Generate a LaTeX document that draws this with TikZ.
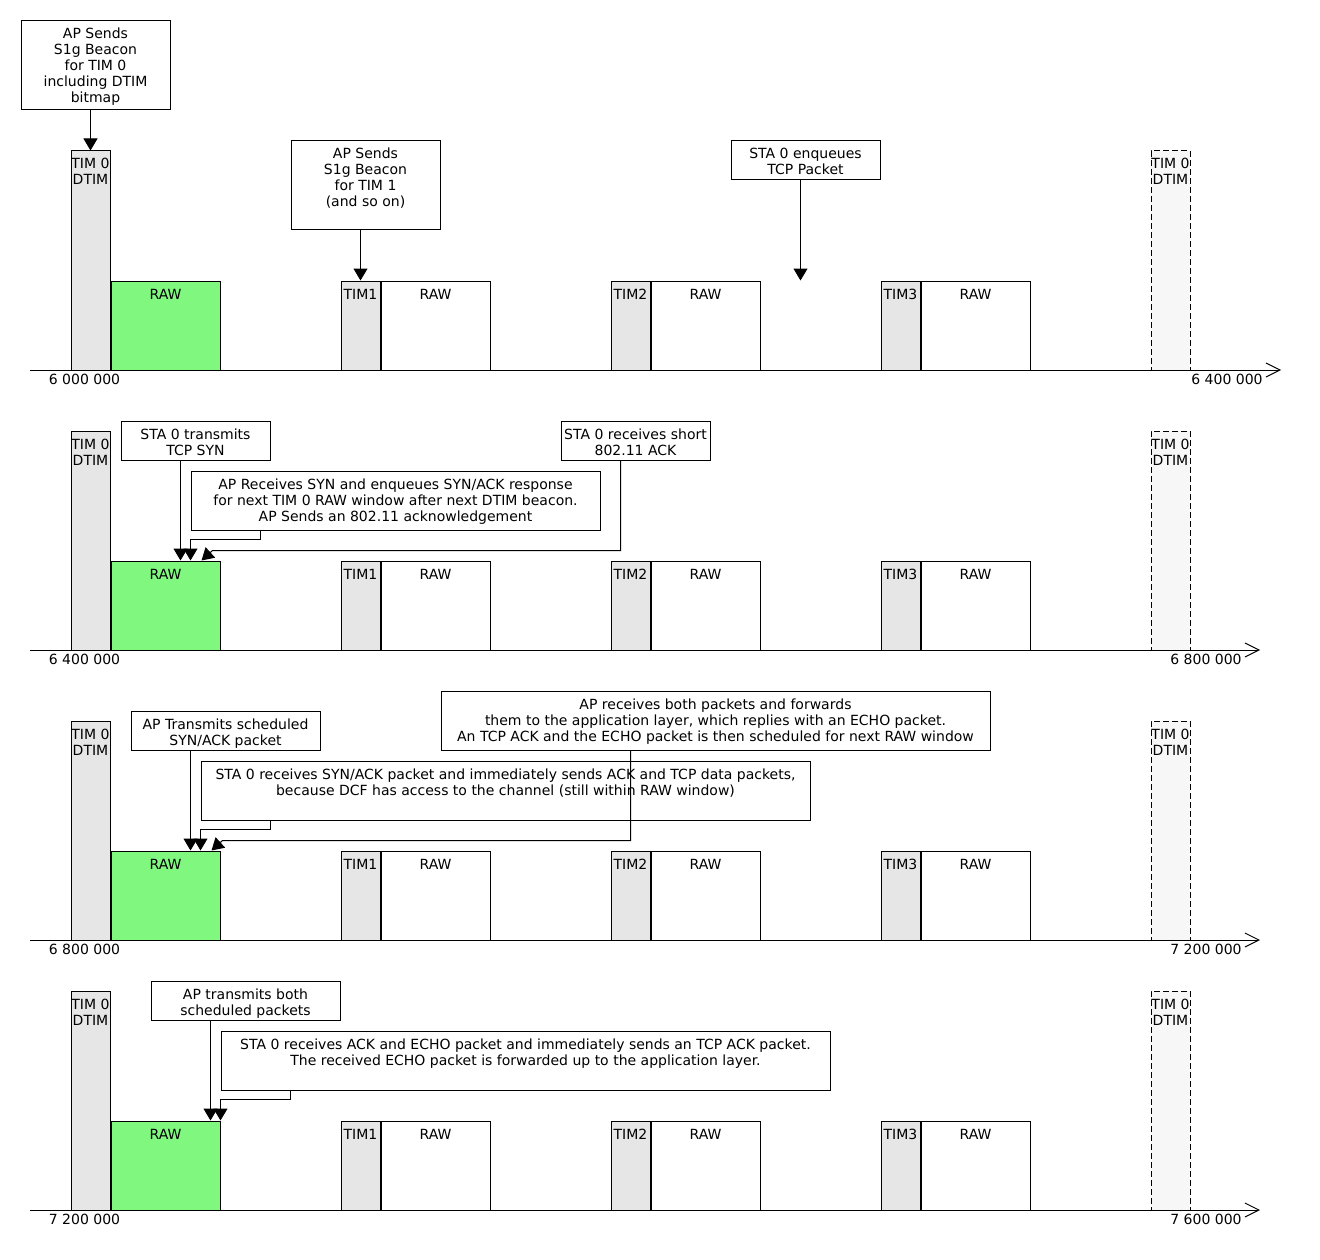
\documentclass[tikz,border=0pt]{standalone}
\usepackage{fontspec}
\setmainfont{DejaVu Sans}
\usetikzlibrary{arrows.meta}
\definecolor{timgray}{RGB}{230,230,230}
\definecolor{rawgreen}{RGB}{128,248,128}
\definecolor{ghostgray}{RGB}{247,247,247}
\newcommand\tbox[3]{\parbox[t][#2][t]{#1}{\centering\rule{0pt}{18pt}#3\par}}
\begin{document}
\begin{tikzpicture}[x=1pt,y=-1pt,font=\fontsize{14}{16}\selectfont,
  note/.style={draw, line width=1pt, fill=white, inner sep=0pt, anchor=north west},
  bar/.style={draw, line width=1pt, inner sep=0pt, anchor=north west},
  timbar/.style={bar, fill=timgray},
  rawbar/.style={bar, fill=white},
  greenbar/.style={bar, fill=rawgreen},
  ghostbar/.style={bar, fill=ghostgray, dash pattern=on 6pt off 3pt},
  arr/.style={line width=1pt, -{Triangle[width=14pt,length=12pt]}},
  axisline/.style={line width=1pt, -{Straight Barb[length=14pt,width=14pt]}},
  lbl/.style={anchor=base, inner sep=0pt}]
\useasboundingbox (0,0) rectangle (1320,1260);
\fill[white] (0,0) rectangle (1320,1260);

\foreach \rw/\off/\xe/\la/\lb in {1/0/1281/6 000 000/6 400 000,2/280/1260/6 400 000/6 800 000,3/570/1260/6 800 000/7 200 000,4/840/1260/7 200 000/7 600 000}{
  \begin{scope}[shift={(0,\off)}]
    \node[timbar] (dtim\rw) at (70.5,150.5) {\tbox{39pt}{219pt}{TIM 0\\DTIM}};
    \node[greenbar] (rawz\rw) at (110.5,280.5) {\tbox{109pt}{89pt}{RAW}};
    \foreach \k/\xx in {1/340.5,2/610.5,3/880.5}{
      \node[timbar] (tim\k-\rw) at (\xx,280.5) {\tbox{39pt}{89pt}{TIM\k}};
      \node[rawbar] (raw\k-\rw) at (\xx+40,280.5) {\tbox{109pt}{89pt}{RAW}};
    }
    \node[ghostbar] (ghost\rw) at (1150.5,150.5) {\tbox{39pt}{219pt}{TIM 0\\DTIM}};
    \coordinate (axs\rw) at (30,370);
    \coordinate (axe\rw) at (\xe,370);
    \draw[axisline] (axs\rw) -- (axe\rw);
    \node[lbl] (lo\rw) at (84.5,384) {\la};
    \node[lbl] (hi\rw) at (\xe-54,384) {\lb};
  \end{scope}
}

% row 1 notes
\node[note] (n1a) at (20.5,20.5) {\tbox{149pt}{89pt}{AP Sends\\S1g Beacon\\for TIM 0\\including DTIM\\bitmap}};
\node[note] (n1b) at (290.5,140.5) {\tbox{149pt}{89pt}{AP Sends\\S1g Beacon\\for TIM 1\\(and so on)}};
\node[note] (n1c) at (730.5,140.5) {\tbox{149pt}{39pt}{STA 0 enqueues\\TCP Packet}};
% row 2 notes
\node[note] (n2a) at (120.5,420.5) {\tbox{149pt}{39pt}{STA 0 transmits\\TCP SYN}};
\node[note] (n2b) at (190.5,470.5) {\tbox{409pt}{59pt}{AP Receives SYN and enqueues SYN/ACK response\\for next TIM 0 RAW window after next DTIM beacon.\\AP Sends an 802.11 acknowledgement}};
\node[note] (n2c) at (560.5,420.5) {\tbox{149pt}{39pt}{STA 0 receives short\\802.11 ACK}};
% row 3 notes
\node[note] (n3a) at (130.5,710.5) {\tbox{189pt}{39pt}{AP Transmits scheduled\\SYN/ACK packet}};
\node[note] (n3b) at (440.5,690.5) {\tbox{549pt}{59pt}{AP receives both packets and forwards\\them to the application layer, which replies with an ECHO packet.\\An TCP ACK and the ECHO packet is then scheduled for next RAW window}};
\node[note] (n3c) at (200.5,760.5) {\tbox{609pt}{59pt}{STA 0 receives SYN/ACK packet and immediately sends ACK and TCP data packets,\\because DCF has access to the channel (still within RAW window)}};
% row 4 notes
\node[note] (n4a) at (150.5,980.5) {\tbox{189pt}{39pt}{AP transmits both\\scheduled packets}};
\node[note] (n4b) at (220.5,1030.5) {\tbox{609pt}{59pt}{STA 0 receives ACK and ECHO packet and immediately sends an TCP ACK packet.\\The received ECHO packet is forwarded up to the application layer.}};

% row 1 arrows
\coordinate (p1a) at (90.5,150.5);
\coordinate (p1b) at (360.5,280.5);
\coordinate (p1c) at (800.5,280.5);
\draw[arr] (n1a.south -| p1a) -- (p1a);
\draw[arr] (n1b.south -| p1b) -- (p1b);
\draw[arr] (n1c.south -| p1c) -- (p1c);
% row 2 arrows
\coordinate (p2a) at (180.5,560.5);
\coordinate (p2b) at (190.5,560.5);
\coordinate (k2b) at (260.5,539.5);
\coordinate (p2c) at (201.5,560.5);
\coordinate (k2c) at (620.5,550.5);
\coordinate (j2c) at (212.5,550.5);
\draw[arr] (n2a.south -| p2a) -- (p2a);
\draw[arr] (n2b.south -| k2b) -- (k2b) -| (p2b);
\draw[arr] (n2c.south -| k2c) -- (k2c) -- (j2c) -- (p2c);
% row 3 arrows
\coordinate (p3a) at (190.5,850.5);
\coordinate (p3c) at (200.5,850.5);
\coordinate (k3c) at (270.5,829.5);
\coordinate (p3b) at (211.5,850.5);
\coordinate (k3b) at (630.5,840.5);
\coordinate (j3b) at (222.5,840.5);
\draw[arr] (n3a.south -| p3a) -- (p3a);
\draw[arr] (n3c.south -| k3c) -- (k3c) -| (p3c);
\draw[arr] (n3b.south -| k3b) -- (k3b) -- (j3b) -- (p3b);
% row 4 arrows
\coordinate (p4a) at (210.5,1120.5);
\coordinate (p4b) at (220.5,1120.5);
\coordinate (k4b) at (290.5,1099.5);
\draw[arr] (n4a.south -| p4a) -- (p4a);
\draw[arr] (n4b.south -| k4b) -- (k4b) -| (p4b);
\end{tikzpicture}
\end{document}
